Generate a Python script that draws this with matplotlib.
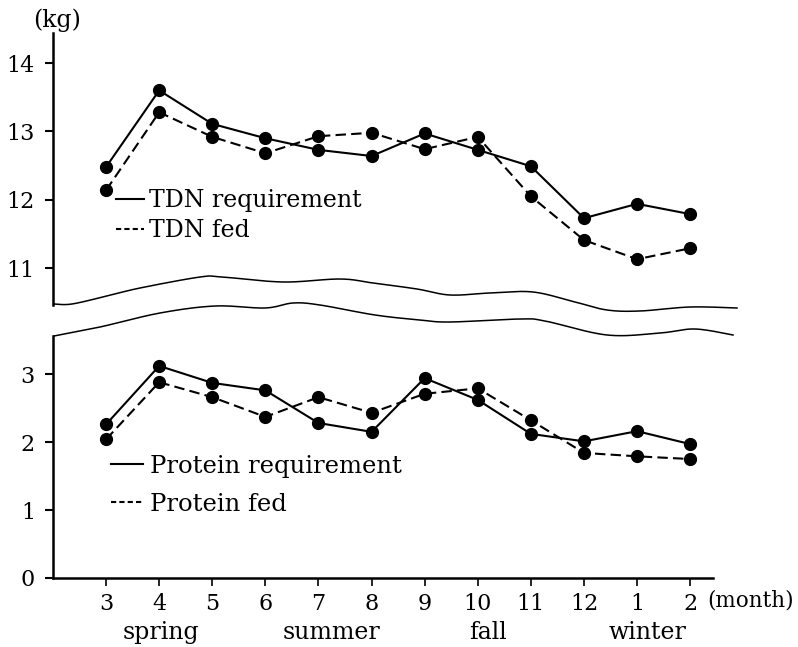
import numpy as np
import matplotlib
matplotlib.use("Agg")
import matplotlib.pyplot as plt
from matplotlib.lines import Line2D

plt.rcParams['font.family'] = ['DejaVu Serif']

months = ["3", "4", "5", "6", "7", "8", "9", "10", "11", "12", "1", "2"]
seasons = ["spring", "summer", "fall", "winter"]
season_pos = [2.04, 5.25, 8.19, 11.19]

tdn_req = [12.48, 13.60, 13.11, 12.90, 12.73, 12.64, 12.97, 12.73, 12.49, 11.73, 11.94, 11.79]
tdn_fed = [12.14, 13.28, 12.92, 12.68, 12.93, 12.98, 12.74, 12.92, 12.05, 11.41, 11.13, 11.29]
prot_req = [2.26, 3.12, 2.87, 2.76, 2.28, 2.15, 2.94, 2.62, 2.12, 2.01, 2.16, 1.97]
prot_fed = [2.04, 2.88, 2.66, 2.37, 2.66, 2.43, 2.71, 2.79, 2.32, 1.84, 1.79, 1.75]

W, H = 798, 647
fig = plt.figure(figsize=(W / 100, H / 100), dpi=100)


def fbox(left, top, right, bottom):
    return [left / W, 1 - bottom / H, (right - left) / W, (bottom - top) / H]


ax_top = fig.add_axes(fbox(53, 33, 713, 305))
ax_bot = fig.add_axes(fbox(53, 336, 713, 578))

x = np.arange(1, len(months) + 1)
lw = 1.5
ms = 8.5
dash = (0, (5, 2.5))

ax_top.plot(x, tdn_req, color='black', lw=lw, marker='o', ms=ms)
ax_top.plot(x, tdn_fed, color='black', lw=lw, marker='o', ms=ms, linestyle=dash)
ax_bot.plot(x, prot_req, color='black', lw=lw, marker='o', ms=ms)
ax_bot.plot(x, prot_fed, color='black', lw=lw, marker='o', ms=ms, linestyle=dash)

for ax in (ax_top, ax_bot):
    ax.set_xlim(0, 12.43)
    for s in ('top', 'right'):
        ax.spines[s].set_visible(False)
    ax.spines['left'].set_linewidth(1.8)
    ax.tick_params(axis='y', direction='out', length=6, width=1.5, labelsize=16, pad=7)
    ax.patch.set_visible(False)

ax_top.spines['bottom'].set_visible(False)
ax_top.set_xticks([])
ax_top.set_ylim(10.46, 14.44)
ax_top.set_yticks([11, 12, 13, 14])

ax_bot.spines['bottom'].set_linewidth(1.8)
ax_bot.set_ylim(0, 3.56)
ax_bot.set_yticks([0, 1, 2, 3])
ax_bot.set_xticks(x)
ax_bot.set_xticklabels(months)
ax_bot.tick_params(axis='x', direction='out', length=6, width=1.2, labelsize=16, pad=5)

for lbl, pos in zip(seasons, season_pos):
    ax_bot.text(pos, -0.227, lbl, transform=ax_bot.get_xaxis_transform(),
                ha='center', va='center', fontsize=17)

fig.text(707 / W, 1 - 600 / H, "(month)", ha='left', va='center', fontsize=15.5)
fig.text(57 / W, 1 - 20 / H, "(kg)", ha='center', va='center', fontsize=17)

# legends
solid_h = Line2D([], [], color='black', lw=1.5)
dash_h = Line2D([], [], color='black', lw=1.5, linestyle=(0, (2.5, 1.5)))
ax_top.legend([solid_h, dash_h], ["TDN requirement", "TDN fed"], frameon=False,
              loc='upper left', bbox_to_anchor=(116 / W, 1 - 189 / H),
              bbox_transform=fig.transFigure, borderpad=0, borderaxespad=0,
              handlelength=1.2, handletextpad=0.2, labelspacing=0.3, fontsize=17)
ax_bot.legend([solid_h, dash_h], ["Protein requirement", "Protein fed"], frameon=False,
              loc='upper left', bbox_to_anchor=(111 / W, 1 - 455 / H),
              bbox_transform=fig.transFigure, borderpad=0, borderaxespad=0,
              handlelength=1.3, handletextpad=0.3, labelspacing=0.6, fontsize=17.5)


# wavy break lines (decoration, pixel control points)
def smooth(pts, n=20):
    pts = np.asarray(pts, float)
    P = np.vstack([pts[0], pts, pts[-1]])
    out = []
    for i in range(1, len(P) - 2):
        p0, p1, p2, p3 = P[i - 1], P[i], P[i + 1], P[i + 2]
        t = np.linspace(0, 1, n, endpoint=False)[:, None]
        seg = 0.5 * ((2 * p1) + (-p0 + p2) * t + (2 * p0 - 5 * p1 + 4 * p2 - p3) * t ** 2
                     + (-p0 + 3 * p1 - 3 * p2 + p3) * t ** 3)
        out.append(seg)
    out.append(P[-2][None, :])
    return np.vstack(out)


wave_upper = [(54, 304), (72, 304), (107, 296), (140, 288), (200, 277), (222, 277),
              (283, 282), (340, 279), (373, 283), (417, 289), (450, 295), (490, 293),
              (533, 292), (575, 302), (607, 310), (640, 311), (690, 307), (737, 308)]
wave_lower = [(54, 336), (100, 327), (160, 313), (215, 306), (265, 308), (293, 303),
              (320, 305), (375, 315), (420, 320), (450, 322), (520, 319), (545, 321),
              (607, 335), (660, 333), (695, 329), (733, 335)]
for w in (wave_upper, wave_lower):
    s = smooth(w)
    fig.add_artist(Line2D(s[:, 0] / W, 1 - s[:, 1] / H, color='black', lw=1.1,
                          transform=fig.transFigure))

fig.savefig("out.png", dpi=100, facecolor='white')
